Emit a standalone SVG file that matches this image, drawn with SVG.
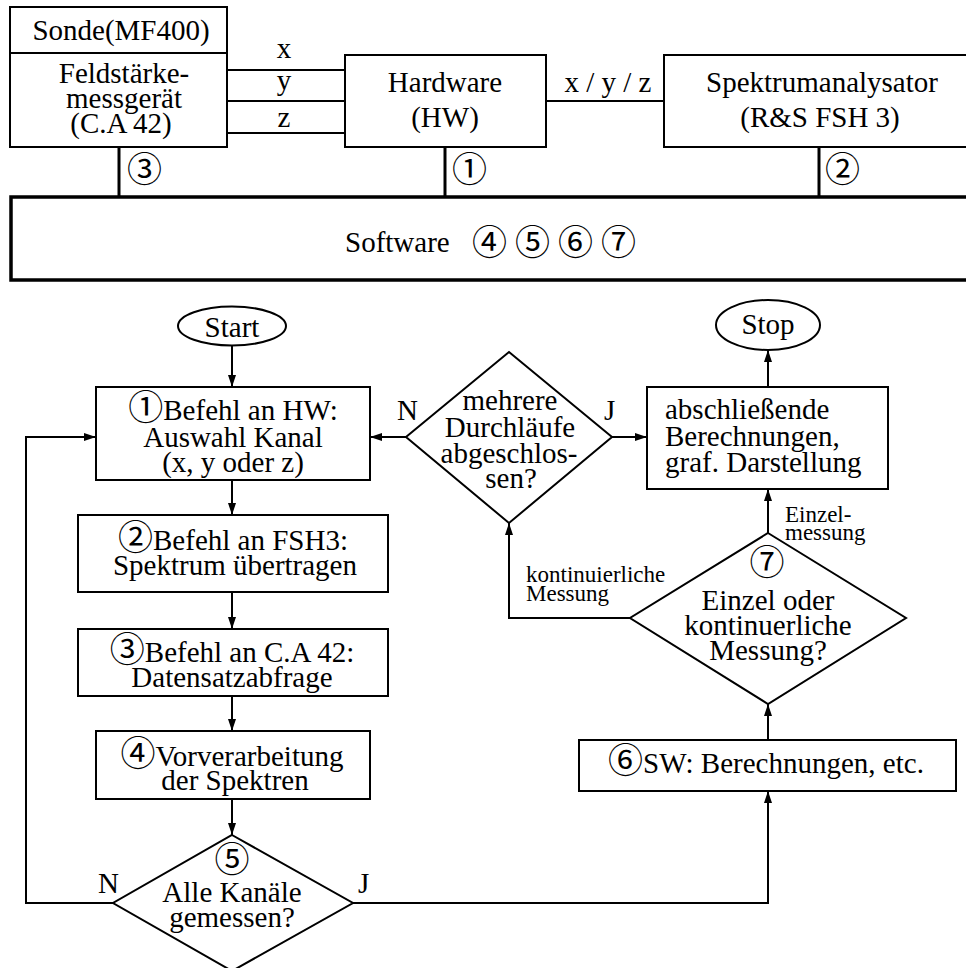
<svg xmlns="http://www.w3.org/2000/svg" width="966" height="968" viewBox="0 0 966 968">
  <style>
    .t { font-family: "Liberation Serif", "Times New Roman", serif; font-size: 29px; fill: #000; }
    .m { text-anchor: middle; }
    .s { font-size: 23px; }
    .c { font-family: "Noto Sans CJK JP", "DejaVu Sans", sans-serif; font-size: 35px; }
    .box { fill: #fff; stroke: #000; stroke-width: 2; }
    .bus { stroke: #000; stroke-width: 3; fill: none; }
    .ln { stroke: #000; stroke-width: 2; fill: none; }
    .arr { stroke: #000; stroke-width: 2; fill: none; marker-end: url(#ah); }
  </style>
  <defs>
    <marker id="ah" markerUnits="userSpaceOnUse" markerWidth="13" markerHeight="8" refX="12" refY="4" orient="auto">
      <path d="M0,0 L12,4 L0,8 Z" fill="#000"/>
    </marker>
  </defs>
  <rect width="966" height="968" fill="#fff"/>

  <!-- hardware / software overview -->
  <g id="sonde">
    <rect class="box" x="10" y="7" width="217" height="46"/>
    <text class="t m" x="121" y="40">Sonde(MF400)</text>
  </g>
  <g id="feldstaerke">
    <rect class="box" x="10" y="53" width="217" height="94"/>
    <text class="t m" x="124" y="83">Feldstärke-</text>
    <text class="t m" x="124" y="108">messgerät</text>
    <text class="t m" x="121" y="133">(C.A 42)</text>
  </g>
  <g id="hardware">
    <rect class="box" x="345" y="55" width="201" height="92"/>
    <text class="t m" x="445" y="92">Hardware</text>
    <text class="t m" x="445" y="127">(HW)</text>
  </g>
  <g id="spektrumanalysator">
    <rect class="box" x="664" y="55" width="320" height="92"/>
    <text class="t m" x="822" y="92">Spektrumanalysator</text>
    <text class="t m" x="820" y="127">(R&amp;S FSH 3)</text>
  </g>
  <g id="software">
    <rect x="11" y="197" width="1000" height="83" fill="none" stroke="#000" stroke-width="3.5"/>
    <text class="t" x="345" y="252">Software <tspan class="c" x="472" y="255">④</tspan><tspan class="c" x="515" y="255">⑤</tspan><tspan class="c" x="558" y="255">⑥</tspan><tspan class="c" x="601" y="255">⑦</tspan></text>
  </g>

  <g id="overview-links">
    <line class="ln" x1="227" y1="70" x2="345" y2="70"/>
    <line class="ln" x1="227" y1="101" x2="345" y2="101"/>
    <line class="ln" x1="227" y1="133" x2="345" y2="133"/>
    <line class="ln" x1="546" y1="101" x2="664" y2="101"/>
    <line class="bus" x1="119" y1="147" x2="119" y2="197"/>
    <line class="bus" x1="445" y1="147" x2="445" y2="197"/>
    <line class="bus" x1="819" y1="147" x2="819" y2="197"/>
    <text class="t m" x="284" y="58">x</text>
    <text class="t m" x="284" y="90">y</text>
    <text class="t m" x="284" y="127">z</text>
    <text class="t m" x="608" y="92">x / y / z</text>
    <text class="t c" x="127" y="182">③</text>
    <text class="t c" x="452" y="182">①</text>
    <text class="t c" x="825" y="182">②</text>
  </g>

  <!-- flowchart -->
  <g id="start">
    <ellipse cx="232" cy="326" rx="54" ry="19.5" fill="#fff" stroke="#000" stroke-width="2"/>
    <text class="t m" x="232" y="337">Start</text>
  </g>
  <g id="step1">
    <rect class="box" x="96" y="387" width="274" height="93"/>
    <text class="t m" x="233" y="420"><tspan class="c">①</tspan>Befehl an HW:</text>
    <text class="t m" x="233" y="447">Auswahl Kanal</text>
    <text class="t m" x="233" y="472">(x, y oder z)</text>
  </g>
  <g id="step2">
    <rect class="box" x="78" y="515" width="310" height="77"/>
    <text class="t m" x="233" y="550"><tspan class="c">②</tspan>Befehl an FSH3:</text>
    <text class="t m" x="235" y="575">Spektrum übertragen</text>
  </g>
  <g id="step3">
    <rect class="box" x="78" y="629" width="310" height="67"/>
    <text class="t m" x="232" y="662"><tspan class="c">③</tspan>Befehl an C.A 42:</text>
    <text class="t m" x="232" y="687">Datensatzabfrage</text>
  </g>
  <g id="step4">
    <rect class="box" x="96" y="731" width="274" height="68"/>
    <text class="t m" x="232" y="766"><tspan class="c">④</tspan>Vorverarbeitung</text>
    <text class="t m" x="235" y="790">der Spektren</text>
  </g>
  <g id="check5">
    <polygon class="box" points="232,835 353,903 232,971 113,903"/>
    <text class="t m c" x="232" y="872">⑤</text>
    <text class="t m" x="232" y="902">Alle Kanäle</text>
    <text class="t m" x="232" y="927">gemessen?</text>
  </g>
  <g id="step6">
    <rect class="box" x="579" y="740" width="377" height="51"/>
    <text class="t m" x="766" y="773"><tspan class="c">⑥</tspan>SW: Berechnungen, etc.</text>
  </g>
  <g id="check7">
    <polygon class="box" points="768,533 906,618 768,704 630,618"/>
    <text class="t m c" x="767" y="575">⑦</text>
    <text class="t m" x="768" y="610">Einzel oder</text>
    <text class="t m" x="768" y="635">kontinuerliche</text>
    <text class="t m" x="768" y="660">Messung?</text>
  </g>
  <g id="check-runs">
    <polygon class="box" points="509,352 612,437 509,523 406,437"/>
    <text class="t m" x="510" y="410">mehrere</text>
    <text class="t m" x="510" y="437">Durchläufe</text>
    <text class="t m" x="509" y="463">abgeschlos-</text>
    <text class="t m" x="511" y="488">sen?</text>
  </g>
  <g id="final">
    <rect class="box" x="647" y="387" width="241" height="102"/>
    <text class="t" x="665" y="419">abschließende</text>
    <text class="t" x="665" y="446">Berechnungen,</text>
    <text class="t" x="665" y="472">graf. Darstellung</text>
  </g>
  <g id="stop">
    <ellipse cx="768" cy="325" rx="52" ry="25" fill="#fff" stroke="#000" stroke-width="2"/>
    <text class="t m" x="768" y="334">Stop</text>
  </g>

  <g id="connectors">
    <line class="arr" x1="232" y1="345" x2="232" y2="387"/>
    <line class="arr" x1="232" y1="480" x2="232" y2="515"/>
    <line class="arr" x1="232" y1="592" x2="232" y2="629"/>
    <line class="arr" x1="232" y1="696" x2="232" y2="731"/>
    <line class="arr" x1="232" y1="799" x2="232" y2="835"/>
    <path class="arr" d="M113,903 H26 V437 H96"/>
    <path class="arr" d="M353,903 H768 V791"/>
    <line class="arr" x1="768" y1="740" x2="768" y2="704"/>
    <line class="arr" x1="768" y1="533" x2="768" y2="489"/>
    <path class="arr" d="M630,618 H509 V523"/>
    <line class="arr" x1="406" y1="437" x2="370" y2="437"/>
    <line class="arr" x1="612" y1="437" x2="647" y2="437"/>
    <line class="arr" x1="768" y1="387" x2="768" y2="350"/>
    <text class="t" x="98" y="893">N</text>
    <text class="t" x="358" y="893">J</text>
    <text class="t" x="397" y="420">N</text>
    <text class="t" x="604" y="420">J</text>
    <text class="t s" x="785" y="522">Einzel-</text>
    <text class="t s" x="785" y="540">messung</text>
    <text class="t s" x="526" y="582">kontinuierliche</text>
    <text class="t s" x="526" y="601">Messung</text>
  </g>
</svg>
